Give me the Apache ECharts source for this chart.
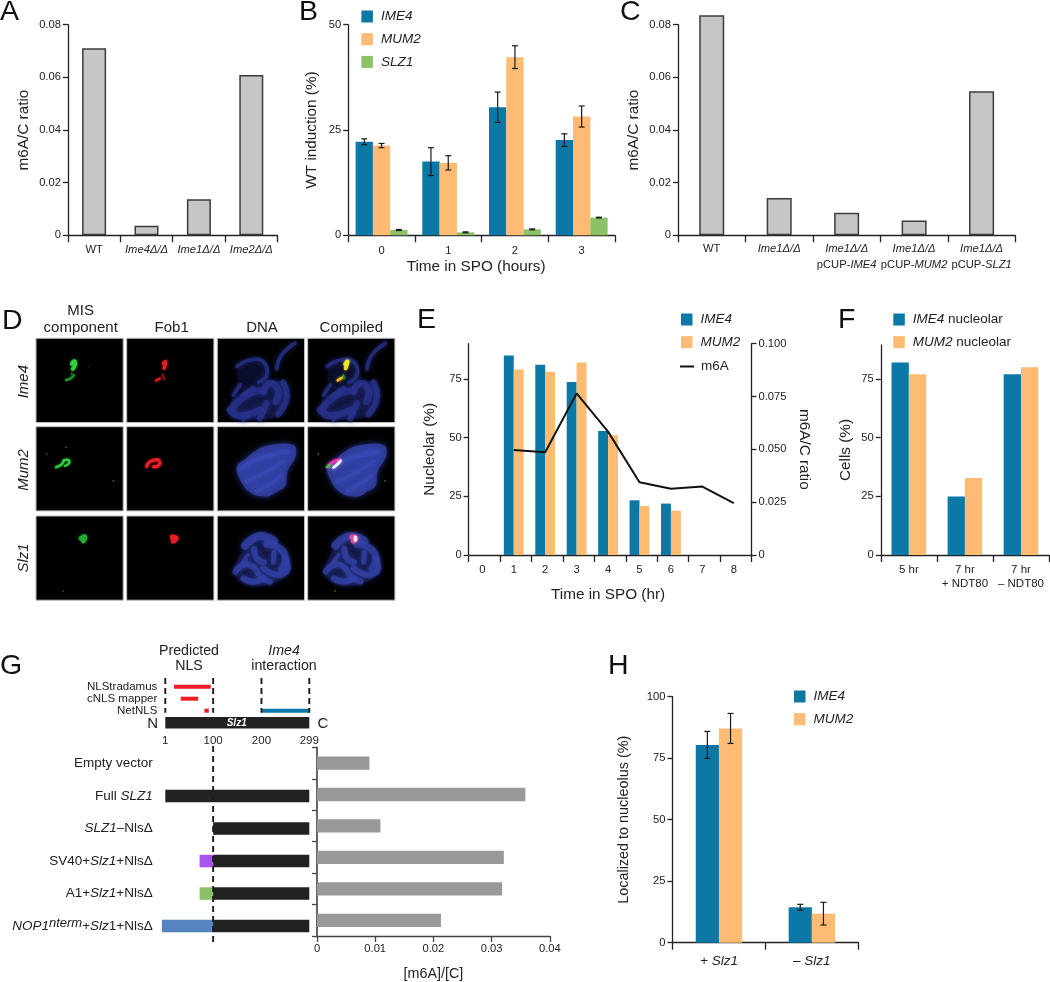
<!DOCTYPE html>
<html><head><meta charset="utf-8">
<style>html,body{margin:0;padding:0;background:#fff}#c{width:1050px;height:982px}</style>
<script src="https://cdn.jsdelivr.net/npm/echarts@6/dist/echarts.min.js"></script>
</head><body><div id="c"></div>
<script>
// ---------- DATA ----------
const aCats = ['WT','{i|Ime4Δ/Δ}','{i|Ime1Δ/Δ}','{i|Ime2Δ/Δ}'];
const aVals = [0.0711,0.0036,0.0137,0.0609];

const bCats = ['0','1','2','3'];
const bIme4 = [22.2,17.5,30.4,22.6];
const bMum2 = [21.3,17.2,42.3,28.2];
const bSlz1 = [1.26,0.7,1.4,4.2];
const bIme4Err = [0.7,3.3,3.6,1.5];
const bMum2Err = [0.5,1.7,2.7,2.5];
const bSlz1Err = [0.12,0.12,0.12,0.1];

const cCats = ['WT','{i|Ime1Δ/Δ}','{i|Ime1Δ/Δ}\npCUP-{i|IME4}','{i|Ime1Δ/Δ}\npCUP-{i|MUM2}','{i|Ime1Δ/Δ}\npCUP-{i|SLZ1}'];
const cVals = [0.0836,0.0142,0.0086,0.0056,0.0547];

const eCats = ['0','1','2','3','4','5','6','7','8'];
const eIme4 = [null,85,81,73.7,52.8,23.3,21.9,null,null];
const eMum2 = [null,79,78,82,51,20.9,18.9,null,null];
const eM6A  = [null,0.0497,0.0486,0.0765,0.0584,0.0344,0.0314,0.0324,0.0246];

const fCats = ['5 hr','7 hr\n+ NDT80','7 hr\n– NDT80'];
const fIme4 = [82,24.9,77];
const fMum2 = [77,32.8,80];

const nlsTools = ['NLStradamus','cNLS mapper','NetNLS'];
const nlsRanges = [[0,19,95],[1,33,69],[2,82,91]];
const ime4Range = [[2,200,299]];
const slz1Range = [[3,1,299]];
const residueTicks = [1,100,200,299];

const gRows = ['Empty vector','Full {i|SLZ1}','{i|SLZ1}–NlsΔ','SV40+{i|Slz1}+NlsΔ','A1+{i|Slz1}+NlsΔ','{i|NOP1}{s|nterm}+{i|Slz}1+NlsΔ'];
const gVals = [0.0090,0.0358,0.0109,0.0321,0.0318,0.0213];
const gSlz1Parts = [[1,1,299],[2,100,299],[3,100,299],[4,100,299],[5,100,299]];
const gTagSV40 = [[3,72,100]];
const gTagA1 = [[4,72,100]];
const gTagNop1 = [[5,-6,100]];

const hCats = ['{i|+ Slz1}','{i|– Slz1}'];
const hIme4 = [80.4,14.4];
const hMum2 = [87.1,11.8];
const hIme4Err = [5.5,1.2];
const hMum2Err = [6.1,4.6];

// ---------- STYLE ----------
const FONT='"Liberation Sans",Arial,sans-serif';
const INK='#222', BLUE='#0b78a6', ORANGE='#fdbb73', GREEN='#8cc265', GREY='#c6c6c6';
const RICH={i:{fontStyle:'italic'},s:{fontStyle:'italic',fontSize:13,verticalAlign:'top',padding:[0,0,6,0]}};

const grids=[],xAxes=[],yAxes=[],series=[],legends=[],gfx=[];
const lineSt={show:true,lineStyle:{color:INK,width:1.3}};
function tick(len){return {show:true,length:len,lineStyle:{color:INK,width:1.3}}}
function addGrid(l,t,w,h){grids.push({left:l,top:t,width:w,height:h,containLabel:false});return grids.length-1}
function catX(g,data,opts={}){xAxes.push({gridIndex:g,type:'category',data,
  axisLine:opts.noLine?{show:false}:lineSt,axisTick:opts.noLine?{show:false}:tick(7),
  axisLabel:{show:!opts.noLabel,color:INK,fontFamily:FONT,fontSize:opts.fs||11.2,margin:opts.margin||7,interval:0,rich:RICH,lineHeight:opts.lh||16},
  name:opts.name,nameLocation:'middle',nameGap:opts.nameGap,nameTextStyle:{color:INK,fontFamily:FONT,fontSize:15.3,padding:opts.namePad||0}});return xAxes.length-1}
function valY(g,max,interval,name,gap,opts={}){yAxes.push({gridIndex:g,type:'value',min:0,max,interval,position:opts.position||'left',offset:opts.offset||0,
  splitLine:{show:false},axisLine:lineSt,axisTick:Object.assign(tick(5),opts.ticks?{customValues:opts.ticks}:{}),
  axisLabel:Object.assign({color:INK,fontFamily:FONT,fontSize:11.2,margin:opts.margin||7,
    formatter:opts.fmt},opts.ticks?{customValues:opts.ticks}:{}),
  name,nameLocation:'middle',nameGap:gap,nameRotate:opts.nameRotate,nameTextStyle:{color:INK,fontFamily:FONT,fontSize:opts.nfs||15.3}});return yAxes.length-1}
function bar(name,x,y,data,color,w,extra={}){series.push(Object.assign({type:'bar',name,xAxisIndex:x,yAxisIndex:y,data,barWidth:w,barGap:0,clip:false,
  itemStyle:{color},emphasis:{disabled:true}},extra))}
function errs(x,y,vals,err,idx,n,w){
  series.push({type:'custom',xAxisIndex:x,yAxisIndex:y,silent:true,z:5,
    data:vals.map((v,i)=>[i,v-err[i],v+err[i],idx,n,w]),
    renderItem(p,api){
      const lo=api.coord([api.value(0),api.value(1)]),hi=api.coord([api.value(0),api.value(2)]);
      const cx=lo[0]+(api.value(3)-(api.value(4)-1)/2)*api.value(5),c=3;
      const st={stroke:'#1a1a1a',lineWidth:1.2,fill:'none'};
      return {type:'group',children:[
        {type:'line',shape:{x1:cx,y1:lo[1],x2:cx,y2:hi[1]},style:st},
        {type:'line',shape:{x1:cx-c,y1:lo[1],x2:cx+c,y2:lo[1]},style:st},
        {type:'line',shape:{x1:cx-c,y1:hi[1],x2:cx+c,y2:hi[1]},style:st}]};
    }});
}
function legend(left,top,names,opts={}){legends.push({left,top,orient:'vertical',padding:0,itemGap:opts.gap??8.7,itemWidth:opts.w||11.5,itemHeight:opts.h||12,
  selectedMode:false,icon:'rect',data:names,formatter:opts.formatter,
  textStyle:{color:INK,fontFamily:FONT,fontSize:13.5,fontStyle:opts.plain?'normal':'italic',padding:[0,0,0,3],rich:RICH}})}
const GBORDER={color:GREY,borderColor:'#3c3c3c',borderWidth:1.5};
const fmt2=v=>v===0?'0':v.toFixed(2);

// ---------- PANEL A ----------
{const g=addGrid(67.9,24.7,209.6,210.6);const x=catX(g,aCats);
 const y=valY(g,0.08,0.02,'m6A/C ratio',37,{fmt:fmt2});
 bar('a',x,y,aVals,GREY,24,{itemStyle:GBORDER});}
// ---------- PANEL B ----------
{const g=addGrid(348.2,24.7,266.8,210.6);const x=catX(g,bCats,{margin:7.5,name:'Time in SPO (hours)',nameGap:22,namePad:[0,11,0,0]});
 const y=valY(g,50,25,'WT induction (%)',29);
 const w=17.3;
 bar('IME4',x,y,bIme4,BLUE,w);bar('MUM2',x,y,bMum2,ORANGE,w);bar('SLZ1',x,y,bSlz1,GREEN,w);
 errs(x,y,bIme4,bIme4Err,0,3,w);errs(x,y,bMum2,bMum2Err,1,3,w);errs(x,y,bSlz1,bSlz1Err,2,3,w);
 legend(361.4,9.5,['IME4','MUM2','SLZ1']);}
// ---------- PANEL C ----------
{const g=addGrid(678,24.7,337.3,210.6);const x=catX(g,cCats,{margin:6});
 const y=valY(g,0.08,0.02,'m6A/C ratio',37,{fmt:fmt2});
 bar('c',x,y,cVals,GREY,25,{itemStyle:GBORDER});}
// ---------- PANEL E ----------
{const fg=addGrid(468.6,343.7,282.9,211.3);
 catX(fg,eCats,{noLabel:true});
 yAxes.push({gridIndex:fg,type:'value',show:false,min:0,max:1});
 const g=addGrid(466.6,343.7,282.9,211.3);const x=catX(g,eCats,{margin:6.5,noLine:true,name:'Time in SPO (hr)',nameGap:32});
 const y=valY(g,90,25,'Nucleolar (%)',31,{ticks:[0,25,50,75],offset:-2});
 const y2=valY(g,0.1,0.025,'m6A/C ratio',45,{position:'right',offset:2,nameRotate:-90,fmt:v=>v===0?'0':v.toFixed(3)});
 bar('IME4',x,y,eIme4,BLUE,9.9);bar('MUM2',x,y,eMum2,ORANGE,9.9);
 series.push({type:'line',name:'m6A',xAxisIndex:x,yAxisIndex:y2,data:eM6A,symbol:'none',connectNulls:false,z:6,
   lineStyle:{color:'#111',width:2},itemStyle:{color:'#111'}});
 legend(681,312.5,['IME4','MUM2']);
 legends.push({left:680,top:359.5,padding:0,itemWidth:14,itemHeight:2,icon:'rect',selectedMode:false,data:['m6A'],
   textStyle:{color:INK,fontFamily:FONT,fontSize:13.5,padding:[0,0,0,2]}});}
// ---------- PANEL F ----------
{const g=addGrid(880.8,345,168.2,210);const x=catX(g,fCats,{fs:11.5,margin:7.5,lh:14});
 const y=valY(g,89.5,25,'Cells (%)',28,{ticks:[0,25,50,75]});
 bar('IME4 nucleolar',x,y,fIme4,BLUE,17.3);bar('MUM2 nucleolar',x,y,fMum2,ORANGE,17.3);
 legend(893.3,312.5,['IME4 nucleolar','MUM2 nucleolar'],{plain:true,formatter:n=>{const p=n.split(' ');return '{i|'+p[0]+'} '+p[1]}});}
// ---------- PANEL G : domain schematic ----------
function segs(x,y,data,color,h){series.push({type:'custom',xAxisIndex:x,yAxisIndex:y,silent:true,z:3,data,
  itemStyle:{color},
  renderItem(p,api){const a=api.coord([api.value(1),api.value(0)]),b=api.coord([api.value(2),api.value(0)]);
    return {type:'rect',shape:{x:a[0],y:a[1]-h/2,width:b[0]-a[0],height:h},style:{fill:color}}}})}
function vdash(x,y,data){series.push({type:'custom',xAxisIndex:x,yAxisIndex:y,silent:true,z:4,data,
  renderItem(p,api){const a=api.coord([api.value(0),api.value(1)]),b=api.coord([api.value(0),api.value(2)]);
    return {type:'line',shape:{x1:a[0],y1:a[1],x2:b[0],y2:b[1]},style:{stroke:'#1a1a1a',lineWidth:1.9,lineDash:[6,4]}}}})}
function hidX(g,showLabels){xAxes.push({gridIndex:g,type:'value',min:1,max:299,axisLine:{show:false},axisTick:{show:false},splitLine:{show:false},
  axisLabel:showLabels?{show:true,customValues:residueTicks,color:INK,fontFamily:FONT,fontSize:11.5,margin:6}:{show:false}});return xAxes.length-1}
{const g=addGrid(165.3,680.7,144,48);const x=hidX(g,true);
 yAxes.push({gridIndex:g,type:'value',inverse:true,min:-0.5,max:3.5,splitLine:{show:false},axisLine:{show:false},axisTick:{show:false},
   axisLabel:{customValues:[0,1,2],formatter:v=>nlsTools[v],color:INK,fontFamily:FONT,fontSize:11.5,margin:8}});
 const y=yAxes.length-1;
 vdash(x,y,residueTicks.map(v=>[v,-0.72,2.18]));
 segs(x,y,nlsRanges,'#ed1c24',4);segs(x,y,ime4Range,BLUE,4);segs(x,y,slz1Range,'#222',11.5);}
{const g=addGrid(165.3,747.3,144,195);const x=hidX(g,false);
 yAxes.push({gridIndex:g,type:'value',inverse:true,min:-0.5,max:5.5,splitLine:{show:false},axisLine:{show:false},axisTick:{show:false},
   axisLabel:{customValues:[0,1,2,3,4,5],formatter:v=>gRows[v],color:INK,fontFamily:FONT,fontSize:13.5,margin:12.6,rich:RICH}});
 const y=yAxes.length-1;
 segs(x,y,gTagSV40,'#a855f0',12.5);segs(x,y,gTagA1,GREEN,12.5);segs(x,y,gTagNop1,'#5585c0',12.5);
 segs(x,y,gSlz1Parts,'#222',12.5);
 vdash(x,y,[[100,-0.54,5.55]]);}
// ---------- PANEL G : bars ----------
{const g=addGrid(317,747.3,232.8,195);
 xAxes.push({gridIndex:g,type:'value',min:0,max:0.04,interval:0.01,splitLine:{show:false},
   axisLine:{show:true,lineStyle:{color:'#444',width:1.3}},axisTick:{show:true,length:6,lineStyle:{color:'#444',width:1.3}},
   axisLabel:{color:INK,fontFamily:FONT,fontSize:11.2,margin:7,formatter:fmt2},
   name:'[m6A]/[C]',nameLocation:'middle',nameGap:31,nameTextStyle:{color:INK,fontFamily:FONT,fontSize:14.3}});
 yAxes.push({gridIndex:g,type:'category',inverse:true,data:gRows,axisLine:{show:true,lineStyle:{color:'#555',width:1.8}},
   axisTick:{show:true,length:5,lineStyle:{color:'#444',width:1.3}},axisLabel:{show:false}});
 bar('g',xAxes.length-1,yAxes.length-1,gVals,'#999',13.3);}
// ---------- PANEL H ----------
{const g=addGrid(672.5,696.7,185.8,246);const x=catX(g,hCats,{fs:13.5,margin:11});
 const y=valY(g,100,25,'Localized to nucleolus (%)',41,{nfs:14.4});
 bar('IME4',x,y,hIme4,BLUE,23.2);bar('MUM2',x,y,hMum2,ORANGE,23.2);
 errs(x,y,hIme4,hIme4Err,0,2,23.2);errs(x,y,hMum2,hMum2Err,1,2,23.2);
 legend(794,689.5,['IME4','MUM2']);}

// ---------- TEXT ----------
function T(text,x,y,o={}){gfx.push({type:'text',x,y,rotation:o.rot||0,z:20,silent:true,style:{text,fill:o.color||INK,
  font:`${o.italic?'italic ':''}${o.bold?'bold ':''}${o.size||15}px ${FONT}`,textAlign:o.align||'center',textVerticalAlign:o.va||'middle'}})}
const panels={A:[0,27],B:[299,27],C:[620,27],D:[2,336],E:[417,335],F:[838,335],G:[0,681],H:[608,681]};
Object.entries(panels).forEach(([k,[x,y]])=>T(k,x,y,{size:28.5,align:'left',va:'bottom',color:'#111'}));
T('MIS',80.7,311);T('component',80.7,327.7);T('Fob1',171.7,327.7);T('DNA',262,327.7);T('Compiled',351.3,327.7);
T('Ime4',24.3,381.7,{italic:true,rot:Math.PI/2});T('Mum2',24.3,470,{italic:true,rot:Math.PI/2});T('Slz1',24.3,558,{italic:true,rot:Math.PI/2});
T('Predicted',189,650.7,{size:14.2});T('NLS',189,665.7,{size:14.2});
T('Ime4',284,650.7,{size:14.2,italic:true});T('interaction',284,665.7,{size:14.2});
T('N',152.7,723.5,{size:15});T('C',323,723.5,{size:15});
T('Slz1',236.7,723.5,{size:10,italic:true,bold:true,color:'#fff'});

// ---------- PANEL D : micrograph cells (image content, not data) ----------
const colX=[36,126.7,217.3,307.7], rowY=[338.3,426.7,516];
colX.forEach(x=>rowY.forEach(y=>gfx.push({type:'rect',z:10,silent:true,shape:{x,y,width:87.2,height:84.2},style:{fill:'#000',stroke:'#bbb',lineWidth:1}})));
function Zp(pts,dx){const r=[];for(let i=0;i<pts.length;i+=2)r.push([(pts[i]+dx)/3,295+pts[i+1]/3]);return r}
function stroke(pts,w,color,dx=0,op=1,blur=2.5){const p=Zp(pts,dx);
  if(p.length===1)p.push([p[0][0]+0.01,p[0][1]]);
  gfx.push({type:'polyline',z:11,silent:true,shape:{points:p,smooth:0.5},style:{stroke:color,lineWidth:w,fill:null,lineCap:'round',lineJoin:'round',opacity:op,shadowBlur:blur,shadowColor:color}})}
function blob(pts,color,dx,op,blur){gfx.push({type:'polygon',z:11,silent:true,shape:{points:Zp(pts,dx),smooth:0.4},style:{fill:color,opacity:op,shadowBlur:blur,shadowColor:color}})}
const DB='#28338c',DB2='#3342a8';
const dnaIme4=[[710,215,750,195,790,200,800,240,775,262,3.5],[700,335,740,300,790,285,7],[690,345,720,362,780,345,7],[790,290,810,265,835,285,828,320,7],[780,370,800,325,6],[850,262,860,310,835,358,6],[830,222,845,180,885,145,3.8],[730,300,760,280,5],[720,270,700,300,4],[740,360,730,372,5]];
const dnaSlz1=[[735,752,760,730,790,724,822,738,8],[762,762,770,790,792,802,6],[800,748,840,760,856,790,845,822,7],[822,772,820,802,5],[706,830,730,810,760,815,780,842,810,860,6],[790,820,830,840,860,830,6],[730,850,760,860,790,850,6],[686,840,2,4],[860,790,866,820,5],[745,780,730,800,4]];
const massMum2=[712,512,740,490,760,472,800,452,880,450,888,480,862,530,856,572,830,590,800,605,750,592,716,545];
const baseIme4=[690,340,712,300,800,290,805,265,850,262,860,310,835,360,790,372,700,370];
const ringIme4=[712,250,720,205,760,195,800,205,805,260,770,280,730,285];
const baseSlz1=[704,830,735,755,790,722,825,742,860,790,865,830,820,865,760,872,720,858];
[0,271].forEach(dx=>{
  blob(baseIme4,DB,dx,0.28,6);blob(ringIme4,DB,dx,0.16,5);
  dnaIme4.forEach(s=>stroke(s.slice(0,-1),s[s.length-1],DB,dx,0.75,5));
  blob(baseSlz1,DB,dx,0.3,6);
  dnaSlz1.forEach(s=>stroke(s.slice(0,-1),s[s.length-1],DB2,dx,0.72,5));
  blob(massMum2,DB2,dx,0.8,6);
  [[720,520,780,490,860,470,5],[740,560,800,530,850,500,4],[770,590,820,560,845,540,4]].forEach(s=>stroke(s.slice(0,-1),s[s.length-1],'#3f50c0',dx,0.4,5));
});
const G='#2fd23c',R='#ec1c24';
function greenSet(dx){
  stroke([215,207,223,198,226,208,218,222],3.5,G,dx);stroke([198,255,212,250,222,240],2,'#1c9c2a',dx);stroke([265,217],1,'#146a1c',dx,1,1);stroke([215,236],2,'#157a20',dx);
  stroke([168,517,185,508,190,500],2.2,G,dx);stroke([190,497,205,495,207,505,195,513],2.2,G,dx);
  [[140,477],[198,457],[340,557]].forEach(p=>stroke(p,1.2,'#1c9c2a',dx,1,1));
  stroke([243,730,255,725,250,738],4.5,'#1fae33',dx);stroke([190,888],1.2,'#1c9c2a',dx,1,1);
}
greenSet(0);
stroke([490,205,497,200,492,220],3.2,R);stroke([468,257,480,250],2,R);stroke([488,238,492,253],1.8,'#8c1418');
stroke([440,515,450,500,475,495,478,510,460,515],3,R);
stroke([517,726,528,730,520,738],5,R);
// compiled overlays
stroke([1035,207,1043,199,1037,220],3.5,'#e8e830');stroke([1013,256,1027,248],2.5,'#f0b820');stroke([1030,240,1033,250],1.8,'#1c9c2a');
stroke([985,515,1000,500,1020,495],3,'#e82cb0');stroke([1000,518,1015,505,1022,497],2.2,'#fff');stroke([980,516,990,510],2,G);
[[955,477],[1155,557],[1005,888]].forEach(p=>stroke(p,1.3,'#1c9c2a',0,1,1));
stroke([1056,726,1068,730,1060,738],5,'#e8409c');stroke([1066,726,1066,736],2.6,'#fff');

echarts.init(document.getElementById('c'),null,{renderer:'canvas'}).setOption({
  animation:false,backgroundColor:'#fff',textStyle:{fontFamily:FONT},
  grid:grids,xAxis:xAxes,yAxis:yAxes,series,legend:legends,graphic:gfx
});
</script></body></html>
